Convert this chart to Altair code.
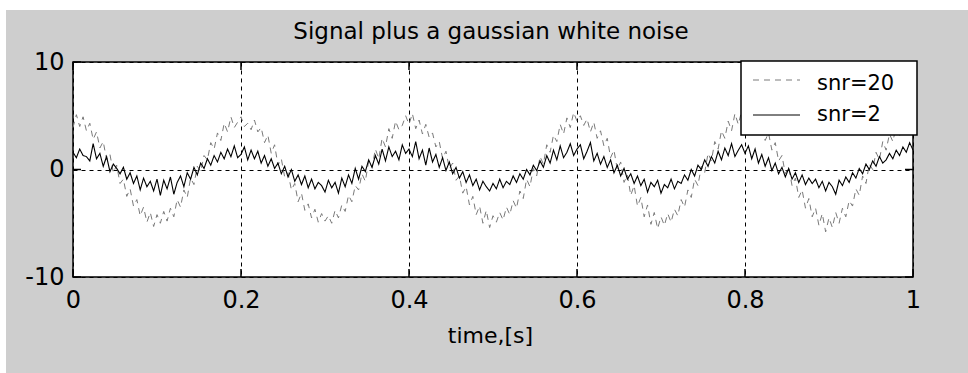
import altair as alt
import numpy as np
import pandas as pd

TITLE = "Signal plus a gaussian white noise"
X_TITLE = "time,[s]"
SERIES = ["snr=20", "snr=2"]
X_TICKS = [0, 0.2, 0.4, 0.6, 0.8, 1]
Y_TICKS = [-10, 0, 10]

# snr=20 (grey dashed), sampled every 0.004 s from t=0 to t=1
snr20 = [
    3.9, 5.1, 4.0, 4.9, 3.6, 4.3, 2.8, 3.5, 2.0, 2.6, 0.9, 1.4, -0.3, 0.4, -1.3, -0.9, -2.5, -1.8, -3.4, -2.8,
    -4.3, -3.5, -4.9, -4.0, -5.3, -4.2, -5.0, -3.9, -4.8, -3.6, -4.4, -2.8, -3.5, -1.9, -2.6, -0.8, -1.4, 0.3, -0.2, 1.3,
    0.9, 2.5, 1.9, 3.4, 2.7, 4.3, 3.5, 4.9, 3.9, 4.4,
    4.9, 4.0, 4.3, 3.7, 4.6, 3.5, 3.9, 2.5, 3.2, 1.5, 2.3, 0.4, 1.0, -0.7, -0.3, -1.9, -1.3, -3.0, -2.2, -3.8,
    -3.2, -4.5, -3.7, -4.9, -4.1, -4.8, -4.3, -5.0, -3.8, -4.5, -3.3, -3.9, -2.4, -3.0, -1.5, -1.9, -0.4, -1.1, 0.8, 0.2,
    1.9, 1.0, 2.9, 2.1, 3.8, 2.9, 4.5, 3.7, 4.1, 5.0,
    4.2, 5.2, 3.8, 4.6, 3.3, 4.2, 3.0, 3.4, 2.1, 2.6, 1.0, 1.7, 0.1, 0.6, -1.0, -0.6, -2.2, -1.6, -3.3, -2.5,
    -4.2, -3.4, -5.0, -3.8, -5.4, -4.3, -4.9, -4.0, -4.7, -3.5, -4.2, -2.9, -3.6, -2.0, -2.7, -0.9, -1.6, 0.1, -0.6, 1.2,
    0.5, 2.3, 1.6, 3.2, 2.6, 4.2, 3.3, 4.8, 3.9, 5.3,
    4.5, 5.0, 4.1, 4.7, 3.5, 4.4, 2.9, 3.6, 2.2, 2.9, 1.1, 1.8, 0.0, 0.7, -1.2, -0.5, -2.4, -1.5, -3.4, -2.6,
    -4.4, -3.3, -5.1, -4.0, -5.5, -4.4, -5.2, -4.1, -4.9, -3.7, -4.3, -2.8, -3.5, -1.9, -2.6, -0.9, -1.5, 0.3, -0.3, 1.5,
    0.8, 2.6, 1.9, 3.6, 2.9, 4.5, 3.6, 5.2, 4.2, 5.4,
    4.6, 5.3, 4.0, 4.8, 3.4, 4.1, 2.7, 3.4, 1.8, 2.5, 0.8, 1.3, -0.4, 0.2, -1.5, -0.8, -2.6, -1.9, -3.6, -2.7,
    -4.4, -3.6, -5.2, -4.1, -5.8, -4.5, -5.4, -4.0, -5.0, -3.6, -4.4, -2.9, -3.4, -1.8, -2.4, -0.6, -1.3, 0.5, 0.0, 1.6,
    0.9, 2.6, 1.8, 3.3, 2.6, 4.0, 3.1, 4.5, 3.4, 4.0,
    3.6,
]

# snr=2 (black solid), same sampling
snr2 = [
    1.6, 1.1, 1.9, 1.3, 1.2, 0.8, 2.4, 1.0, 1.5, 0.3, 1.2, -0.2, 0.5, 0.1, -0.4, 0.2, -0.9, -0.3, -1.3, -0.6,
    -1.9, -0.8, -1.6, -1.1, -2.0, -0.9, -2.4, -1.0, -1.8, -0.7, -2.3, -1.2, -0.6, -1.6, -0.3, -0.9, 0.2, -0.5, 0.6, 0.1,
    1.0, 0.4, 1.3, 0.7, 1.6, 1.0, 1.9, 1.2, 2.2, 1.1,
    1.4, 2.1, 0.9, 1.8, 1.0, 1.7, 0.6, 1.3, 0.3, 1.0, 0.1, 0.6, -0.4, 0.3, -0.7, 0.0, -1.1, -0.5, -1.4, -0.6,
    -1.7, -0.9, -1.8, -1.2, -1.5, -2.1, -1.0, -1.7, -1.2, -2.2, -0.8, -1.6, -0.5, -1.3, 0.1, -0.9, 0.3, -0.2, 0.9, 0.2,
    1.3, 0.5, 1.9, 0.8, 2.1, 1.2, 1.7, 0.9, 2.3, 1.5,
    1.9, 1.2, 2.6, 1.0, 1.8, 0.4, 2.0, 0.7, 1.4, 0.2, 1.1, -0.1, 0.7, -0.4, 0.2, -0.8, -0.2, -1.2, -0.5, -1.5,
    -0.9, -1.9, -1.1, -1.6, -2.0, -1.3, -1.8, -0.9, -1.7, -1.1, -1.4, -0.6, -1.2, -0.4, -0.9, 0.0, -0.5, 0.4, -0.1, 0.8,
    0.2, 1.3, 0.6, 1.8, 0.9, 2.2, 1.1, 1.6, 2.4, 1.3,
    1.9, 2.3, 1.0, 1.7, 2.5, 0.8, 1.5, 0.5, 1.2, 0.2, 0.9, -0.3, 0.4, -0.6, 0.1, -0.9, -0.4, -1.3, -0.6, -1.5,
    -0.9, -2.1, -1.2, -1.6, -1.0, -2.2, -1.4, -1.7, -0.9, -1.8, -1.1, -1.3, -0.5, -1.0, 0.0, -0.6, 0.4, 0.0, 0.9, 0.3,
    1.2, 0.6, 1.7, 0.9, 2.0, 1.3, 2.4, 1.2, 1.8, 2.3,
    1.5, 2.2, 1.0, 1.9, 0.6, 1.4, 0.3, 1.1, -0.1, 0.6, -0.4, 0.2, -0.7, 0.1, -0.9, -0.3, -1.2, -0.5, -1.4, -0.8,
    -1.3, -0.9, -1.7, -1.1, -2.0, -1.2, -1.6, -2.3, -1.0, -1.5, -0.7, -1.2, -0.3, -0.8, 0.1, -0.4, 0.5, 0.0, 0.8, 0.3,
    1.2, 0.6, 0.9, 1.5, 1.0, 1.8, 1.3, 2.1, 1.6, 2.5,
    1.8,
]

W, H = 840, 215
FONT = "DejaVu Sans"
GREY = "#7a7a7a"

df20 = pd.DataFrame({"t": np.linspace(0, 1, len(snr20)), "v": snr20})
df2 = pd.DataFrame({"t": np.linspace(0, 1, len(snr2)), "v": snr2})
xticks_df = pd.DataFrame({"t": X_TICKS})
yticks_df = pd.DataFrame({"v": Y_TICKS})
one = pd.DataFrame({"a": [0]})

xscale = alt.Scale(domain=[0, 1], nice=False, zero=False)
yscale = alt.Scale(domain=[-10, 10], nice=False, zero=False)

x_axis = alt.Axis(
    values=X_TICKS, format="~g", domain=False, ticks=False, tickSize=0,
    grid=True, gridColor="black", gridDash=[4, 4], gridWidth=1, gridOpacity=1,
    labelFont=FONT, labelFontSize=24, labelColor="black", labelBaseline="alphabetic",
    labelPadding=30, labelFlush=False, labelOverlap=False,
    title=X_TITLE, titleFont=FONT, titleFontSize=22, titleFontWeight="normal",
    titleColor="black", titleX=417, titleY=65, titleBaseline="alphabetic", titleAlign="center",
)
y_axis = alt.Axis(
    values=Y_TICKS, domain=False, ticks=False, tickSize=0,
    labelExpr="datum.value < 0 ? '-' + abs(datum.value) : '' + datum.value",
    grid=True, gridColor="black", gridDash=[4, 4], gridWidth=1, gridOpacity=1,
    labelFont=FONT, labelFontSize=24, labelColor="black", labelBaseline="middle",
    labelPadding=9, labelFlush=False, labelOverlap=False, title=None,
)

X = alt.X("t:Q", scale=xscale, axis=x_axis)
Y = alt.Y("v:Q", scale=yscale, axis=y_axis)

line20 = alt.Chart(df20).mark_line(color=GREY, strokeWidth=1, strokeDash=[6, 5]).encode(x=X, y=Y)
line2 = alt.Chart(df2).mark_line(color="black", strokeWidth=1.1).encode(x=X, y=Y)

tick_len = 8
xt_bottom = alt.Chart(xticks_df).mark_rule(color="black", strokeWidth=1.5).encode(
    x=X, y=alt.value(H), y2=alt.value(H - tick_len))
xt_top = alt.Chart(xticks_df).mark_rule(color="black", strokeWidth=1.5).encode(
    x=X, y=alt.value(0), y2=alt.value(tick_len))
yt_left = alt.Chart(yticks_df).mark_rule(color="black", strokeWidth=1.5).encode(
    y=Y, x=alt.value(0), x2=alt.value(tick_len))
yt_right = alt.Chart(yticks_df).mark_rule(color="black", strokeWidth=1.5).encode(
    y=Y, x=alt.value(W), x2=alt.value(W - tick_len))

# white margins outside the grey figure area
white_left = alt.Chart(one).mark_rect(color="white").encode(
    x=alt.value(-73), x2=alt.value(-67), y=alt.value(-62), y2=alt.value(H + 96))
white_top = alt.Chart(one).mark_rect(color="white").encode(
    x=alt.value(-73), x2=alt.value(W + 55), y=alt.value(-62), y2=alt.value(-52))

# title as text
title = alt.Chart(one).mark_text(font=FONT, fontSize=23, align="center", baseline="alphabetic", color="black").encode(
    x=alt.value(W / 2 - 2), y=alt.value(-23), text=alt.value(TITLE))

# legend box
leg_box = alt.Chart(one).mark_rect(fill="white", stroke="black", strokeWidth=1.5).encode(
    x=alt.value(668), x2=alt.value(844), y=alt.value(-1), y2=alt.value(73))
leg_s1 = alt.Chart(one).mark_rule(color=GREY, strokeWidth=1, strokeDash=[6, 5]).encode(
    x=alt.value(680), x2=alt.value(727), y=alt.value(18))
leg_s2 = alt.Chart(one).mark_rule(color="black", strokeWidth=1).encode(
    x=alt.value(680), x2=alt.value(727), y=alt.value(53))
leg_t1 = alt.Chart(one).mark_text(font=FONT, fontSize=21, align="left", baseline="alphabetic", color="black").encode(
    x=alt.value(744), y=alt.value(28), text=alt.value(SERIES[0]))
leg_t2 = alt.Chart(one).mark_text(font=FONT, fontSize=21, align="left", baseline="alphabetic", color="black").encode(
    x=alt.value(744), y=alt.value(59), text=alt.value(SERIES[1]))

chart = alt.layer(
    white_left, white_top, title, line20, line2, xt_bottom, xt_top, yt_left, yt_right,
    leg_box, leg_s1, leg_s2, leg_t1, leg_t2,
).properties(
    width=W, height=H,
    autosize=alt.AutoSizeParams(type="none"),
    padding={"left": 73, "top": 62, "right": 55, "bottom": 96},
    background="#cecece",
).configure_view(fill="white", stroke="black", strokeWidth=1.5)

chart.save("out.html", embed_options={"renderer": "svg", "actions": False})
